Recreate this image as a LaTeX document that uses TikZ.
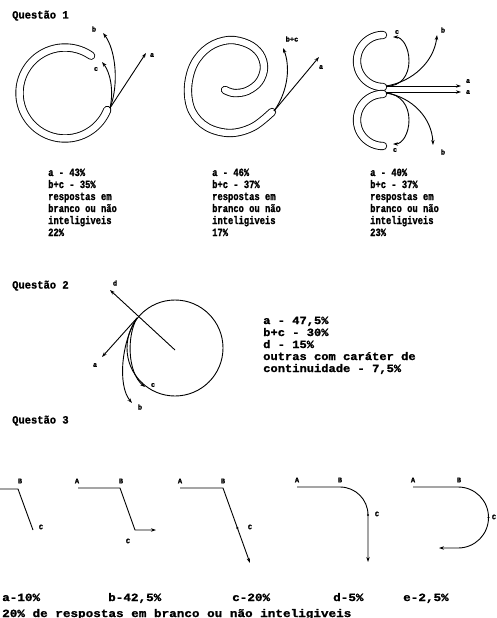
\documentclass[tikz,border=0pt]{standalone}
\usepackage{fontspec}
\newfontfamily\fq[FakeStretch=0.95,BoldFeatures={FakeBold=1.2}]{Liberation Mono}
\newfontfamily\fa[FakeStretch=0.8,BoldFeatures={FakeBold=1.2}]{Liberation Mono}
\newfontfamily\fb[FakeStretch=1.1,BoldFeatures={FakeBold=1.2}]{Liberation Mono}
\newfontfamily\fc[FakeStretch=1.15,BoldFeatures={FakeBold=1.2}]{Liberation Mono}
\newfontfamily\fl[BoldFeatures={FakeBold=1}]{Liberation Mono}
\usetikzlibrary{arrows.meta}
\begin{document}
\begin{tikzpicture}[x=1pt,y=-1pt,
  tube/.style={draw=black, double=white, double distance=6.5pt, line width=0.9pt, line cap=round},
  ln/.style={line width=0.9pt},
  arr/.style={ln,-{Stealth[length=5pt,width=3.4pt]}},
  lbl/.style={inner sep=0pt, font=\fl\fontsize{7}{8}\selectfont\bfseries},
  qst/.style={anchor=base west, inner sep=0pt, font=\fq\fontsize{11}{12}\selectfont\bfseries},
  stA/.style={anchor=base west, inner sep=0pt, font=\fa\fontsize{11}{12}\selectfont\bfseries},
  stB/.style={anchor=base west, inner sep=0pt, font=\fb\fontsize{11}{12}\selectfont\bfseries},
  stC/.style={anchor=base west, inner sep=0pt, font=\fc\fontsize{11}{12}\selectfont\bfseries},
  dotm/.style={fill=black, circle, inner sep=0pt, minimum size=2.4pt}]
\fill[white] (0,0) rectangle (496,618);
\useasboundingbox (0,0) rectangle (496,618);

% ---------- Questão 1 ----------
\node[qst] (q1) at (12,18.5) {Questão 1};

% figure 1: open ring
\draw[tube] plot[domain=22:305, samples=70, smooth] ({65+45.5*cos(\x)},{93+45.5*sin(\x)});
\coordinate (j1) at (110,108);
\coordinate (t1a) at (146,53);
\coordinate (t1b) at (103,33);
\coordinate (t1c) at (102,62);
\draw[arr] (j1) -- (t1a);
\draw[arr] (j1) .. controls (119,85) and (116,50) .. (t1b);
\draw[arr] (j1) .. controls (114,90) and (110,72) .. (t1c);
\node[lbl] (l1a) at (152,55) {a};
\node[lbl] (l1b) at (94,29) {b};
\node[lbl] (l1c) at (96,69) {c};
\foreach \t [count=\i] in {a - 43\%, b+c - 35\%, respostas em, branco ou não, inteligiveis, 22\%}
  \node[stA] (s1\i) at (48,164+12*\i) {\t};

% figure 2: spiral
\draw[tube] plot[smooth, tension=0.6] coordinates {(272,112) (253,127) (230,133) (207,127) (192,111) (188,88) (194,64) (209,47) (229,40) (248,44) (260,54) (264,68) (259,82) (247,91) (234,93) (225,90)};
\coordinate (j2) at (274,111);
\coordinate (t2a) at (319,57);
\coordinate (t2b) at (283,48);
\draw[arr] (j2) -- (t2a);
\draw[arr] (j2) .. controls (289,90) and (290,65) .. (t2b);
\node[lbl] (l2a) at (321,67) {a};
\node[lbl] (l2b) at (292,39) {b+c};
\foreach \t [count=\i] in {a - 46\%, b+c - 37\%, respostas em, branco ou não, inteligiveis, 17\%}
  \node[stA] (s2\i) at (212,164+12*\i) {\t};

% figure 3: two loops
\draw[tube] plot[domain=90:270, samples=40, smooth] ({383+26*cos(\x)},{61+26*sin(\x)});
\draw[tube] plot[domain=90:270, samples=40, smooth] ({383+26*cos(\x)},{120+26*sin(\x)});
\coordinate (ju) at (386,86);
\coordinate (jd) at (386,93);
\coordinate (jm) at (386,92);
\coordinate (t3c1) at (393,37);
\coordinate (t3c2) at (393,144);
\coordinate (t3b1) at (437,35);
\coordinate (t3b2) at (433,145);
\coordinate (t3a1) at (461,86);
\coordinate (t3a2) at (461,92);
\draw[arr] (ju) .. controls (401,87) and (409,75) .. (409,61) .. controls (409,47) and (402,37) .. (t3c1);
\draw[arr] (jd) .. controls (401,94) and (409,106) .. (409,120) .. controls (409,134) and (402,144) .. (t3c2);
\draw[arr] (ju) .. controls (412,82) and (434,62) .. (t3b1);
\draw[arr] (jd) .. controls (412,97) and (432,118) .. (t3b2);
\draw[arr] (ju) -- (t3a1);
\draw[arr] (jm) -- (t3a2);
\node[lbl] (l3c1) at (397,32) {c};
\node[lbl] (l3c2) at (395,150) {c};
\node[lbl] (l3b1) at (443,30) {b};
\node[lbl] (l3b2) at (443,152) {b};
\node[lbl] (l3a1) at (468,81) {a};
\node[lbl] (l3a2) at (468,92) {a};
\foreach \t [count=\i] in {a - 40\%, b+c - 37\%, respostas em, branco ou não, inteligiveis, 23\%}
  \node[stA] (s3\i) at (370,164+12*\i) {\t};

% ---------- Questão 2 ----------
\node[qst] (q2) at (12,288.5) {Questão 2};
\node[draw, circle, ln, minimum size=96pt, inner sep=0pt] (q2c) at (175,348) {};
\coordinate (q2o) at (175,350);
\coordinate (j4) at (137,318);
\coordinate (t4d) at (110,290);
\coordinate (t4a) at (102,357);
\coordinate (t4b) at (132,403);
\coordinate (t4c) at (145,387);
\draw[arr] (q2o) -- (t4d);
\draw[arr] (j4) -- (t4a);
\draw[arr] (j4) .. controls (122,340) and (117,385) .. (t4b);
\draw[arr] (j4) .. controls (127,335) and (127,372) .. (t4c);
\node[lbl] (l4d) at (115,283) {d};
\node[lbl] (l4a) at (95,365) {a};
\node[lbl] (l4b) at (140,407) {b};
\node[lbl] (l4c) at (153,385) {c};
\foreach \t [count=\i] in {{a - 47,5\%}, b+c - 30\%, d - 15\%, outras com caráter de, {continuidade - 7,5\%}}
  \node[stB] (s4\i) at (263,312+12*\i) {\t};

% ---------- Questão 3 ----------
\node[qst] (q3) at (12,423.5) {Questão 3};

% a
\coordinate (a0) at (0,489);
\coordinate (aB) at (18,489);
\coordinate (aC) at (33,530);
\draw[ln] (a0) -- (aB) -- (aC);
\node[lbl] (laB) at (20,481) {B};
\node[lbl] (laC) at (41,527) {C};

% b
\coordinate (bA) at (78,488);
\coordinate (bB) at (120,488);
\coordinate (bC) at (135,530);
\coordinate (bE) at (156,530);
\draw[arr] (bA) -- (bB) -- (bC) -- (bE);
\node[lbl] (lbA) at (77,481) {A};
\node[lbl] (lbB) at (121,481) {B};
\node[lbl] (lbC) at (128,541) {C};

% c
\coordinate (cA) at (180,488);
\coordinate (cB) at (223,488);
\coordinate (cE) at (250,563);
\draw[arr] (cA) -- (cB) -- (cE);
\node[dotm] (cC) at (237.4,528) {};
\node[lbl] (lcA) at (180,481) {A};
\node[lbl] (lcB) at (223,481) {B};
\node[lbl] (lcC) at (250,527) {C};

% d
\coordinate (dA) at (297,487);
\coordinate (dB) at (340,487);
\coordinate (dC) at (368,515);
\coordinate (dE) at (368,562);
\draw[arr] (dA) -- (dB) .. controls (355.5,487) and (368,499.5) .. (dC) -- (dE);
\node[dotm] (dCm) at (368,515) {};
\node[lbl] (ldA) at (297,480) {A};
\node[lbl] (ldB) at (340,480) {B};
\node[lbl] (ldC) at (377,514) {C};

% e
\coordinate (eA) at (413,487);
\coordinate (eB) at (458,487);
\coordinate (eC) at (488.5,517.5);
\coordinate (eD) at (458,548);
\coordinate (eE) at (439,548);
\draw[arr] (eA) -- (eB) .. controls (475,487) and (488.5,500.5) .. (eC) .. controls (488.5,534.5) and (475,548) .. (eD) -- (eE);
\node[dotm] (eCm) at (488.5,517.5) {};
\node[lbl] (leA) at (413,480) {A};
\node[lbl] (leB) at (459,480) {B};
\node[lbl] (leC) at (494,517) {C};

% bottom results
\node[stC] (r1) at (2,601) {a-10\%};
\node[stC] (r2) at (108,601) {b-42,5\%};
\node[stC] (r3) at (232,601) {c-20\%};
\node[stC] (r4) at (333,601) {d-5\%};
\node[stC] (r5) at (403,601) {e-2,5\%};
\node[stC] (r6) at (2,617) {20\% de respostas em branco ou não inteligiveis};
\end{tikzpicture}
\end{document}
